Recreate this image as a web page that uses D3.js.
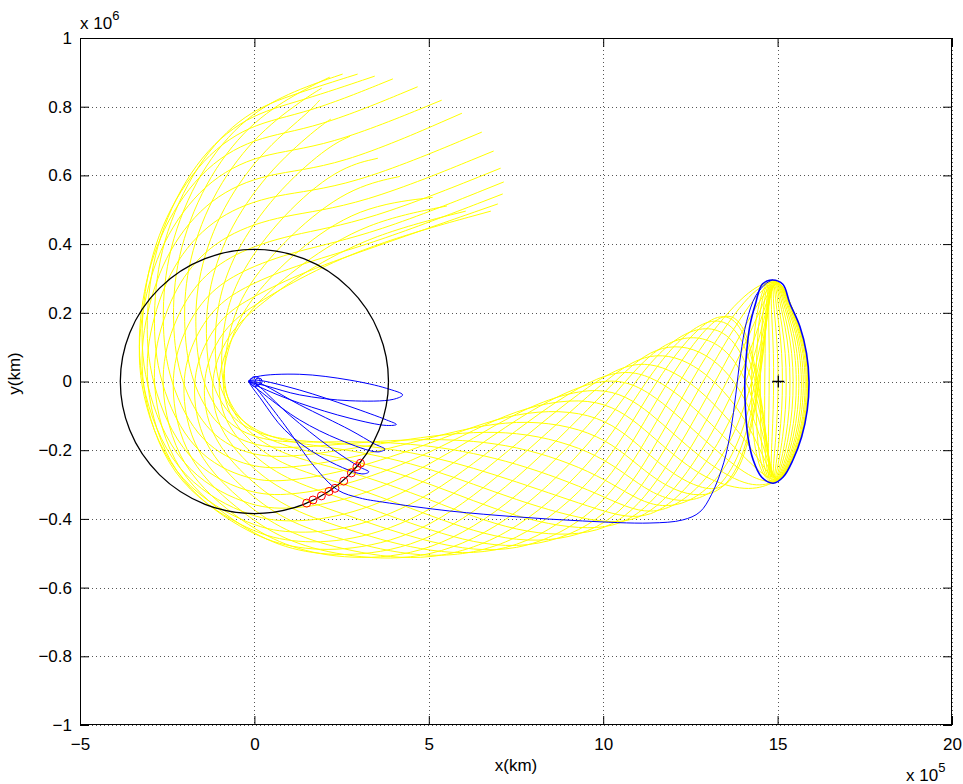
<!DOCTYPE html>
<html><head><meta charset="utf-8">
<script src="https://cdn.jsdelivr.net/npm/d3@7"></script>
<style>
body{margin:0;background:#fff}
svg{display:block}
text{font-family:"Liberation Sans",Arial,Helvetica,sans-serif;fill:#000}
</style></head>
<body><svg id="chart" width="963" height="784"></svg>
<script>
// ---- axis ticks (x in 1e5 km, y in 1e6 km) ----
const xTicks = [-5, 0, 5, 10, 15, 20];
const yTicks = [-1, -0.8, -0.6, -0.4, -0.2, 0, 0.2, 0.4, 0.6, 0.8, 1];

// ---- Moon orbit, Earth parking orbit and L2 ----
const moonOrbitKm = 384400;
const earthPos = [0.02, 0];
const parkingOrbitKm = 14500;
const l2Point = [15.02, 0];

// ---- orbit around L2 (right and left halves at matching heights) ----
const haloRight = [[14.85,0.2955],[15.15,0.283],[15.35,0.228],[15.64,0.16],[15.83,0.082],[15.90,0],[15.85,-0.083],[15.69,-0.161],[15.44,-0.2285],[15.16,-0.278],[14.87,-0.296]];
const haloLeft  = [[14.85,0.2955],[14.56,0.283],[14.37,0.228],[14.20,0.16],[14.11,0.082],[14.06,0],[14.08,-0.083],[14.15,-0.161],[14.30,-0.2285],[14.54,-0.278],[14.87,-0.296]];

// ---- manifold tube: inner / outer edge at successive sections ----
const tubeInner = [[14.15,0.269],[12.77,0.191],[11.34,0.106],[9.99,0.036],[7.52,-0.071],[5.03,-0.156],[2.73,-0.173],[1.01,-0.173],[0.01,-0.144],[-0.62,-0.086],[-0.91,0.0],[-0.76,0.092],[-0.48,0.156],[0.04,0.215],[1.44,0.310],[3.59,0.397]];
const tubeOuter = [[14.15,-0.322],[12.77,-0.365],[11.34,-0.412],[9.99,-0.453],[7.52,-0.511],[5.03,-0.529],[2.73,-0.520],[1.01,-0.492],[-0.28,-0.438],[-2.48,-0.287],[-3.40,0.0],[-3.31,0.208],[-2.86,0.426],[-1.71,0.645],[-0.28,0.784],[1.16,0.848]];

// position of each yellow trajectory across the tube at each section (0 inner .. 1 outer)
const yellowFrac = [
 [0,.15,.5,.85,1,.85,.63,.5,.37,.25,.15,.07,.02,0,.02,.07],
 [.02,.25,.63,.93,.98,.75,.5,.37,.25,.15,.07,.02,0,.02,.07,.15],
 [.07,.37,.75,.98,.93,.63,.37,.25,.15,.07,.02,0,.02,.07,.15,.25],
 [.15,.5,.85,1,.85,.5,.25,.15,.07,.02,0,.02,.07,.15,.25,.37],
 [.25,.63,.93,.98,.75,.37,.15,.07,.02,0,.02,.07,.15,.25,.37,.5],
 [.37,.75,.98,.93,.63,.25,.07,.02,0,.02,.07,.15,.25,.37,.5,.63],
 [.5,.85,1,.85,.5,.15,.02,0,.02,.07,.15,.25,.37,.5,.63,.75],
 [.63,.93,.98,.75,.37,.07,0,.02,.07,.15,.25,.37,.5,.63,.75,.85],
 [.75,.98,.93,.63,.25,.02,.02,.07,.15,.25,.37,.5,.63,.75,.85,.93],
 [.85,1,.85,.5,.15,0,.07,.15,.25,.37,.5,.63,.75,.85,.93,.98],
 [.93,.98,.75,.37,.07,.02,.15,.25,.37,.5,.63,.75,.85,.93,.98,1],
 [.98,.93,.63,.25,.02,.07,.25,.37,.5,.63,.75,.85,.93,.98,1,.98],
 [1,.85,.5,.15,0,.15,.37,.5,.63,.75,.85,.93,.98,1,.98,.93],
 [.98,.75,.37,.07,.02,.25,.5,.63,.75,.85,.93,.98,1,.98,.93,.85],
 [.93,.63,.25,.02,.07,.37,.63,.75,.85,.93,.98,1,.98,.93,.85,.75],
 [.85,.5,.15,0,.15,.5,.75,.85,.93,.98,1,.98,.93,.85,.75,.63],
 [.75,.37,.07,.02,.25,.63,.85,.93,.98,1,.98,.93,.85,.75,.63,.5],
 [.63,.25,.02,.07,.37,.75,.93,.98,1,.98,.93,.85,.75,.63,.5,.37],
 [.5,.15,0,.15,.5,.85,.98,1,.98,.93,.85,.75,.63,.5,.37,.25],
 [.37,.07,.02,.25,.63,.93,1,.98,.93,.85,.75,.63,.5,.37,.25,.15],
 [.25,.02,.07,.37,.75,.98,.98,.93,.85,.75,.63,.5,.37,.25,.15,.07],
 [.15,0,.15,.5,.85,1,.93,.85,.75,.63,.5,.37,.25,.15,.07,.02],
 [.07,.02,.25,.63,.93,.98,.85,.75,.63,.5,.37,.25,.15,.07,.02,0],
 [.02,.07,.37,.75,.98,.93,.75,.63,.5,.37,.25,.15,.07,.02,0,.02]
];
// which side of the L2 orbit each trajectory leaves from (1 = top, 0 = bottom)
const yellowFromTop = [1,1,1,1,1,1,1,1,1,1,1,1,0,0,0,0,0,0,0,0,0,0,0,0];
// how far each trajectory's loop bulges inside the L2 orbit (0 left side .. 1 right side)
const yellowArcBulge = [1,1,1,.97,.92,.85,.76,.65,.52,.38,.24,.1,1,1,1,.99,.95,.89,.81,.71,.59,.45,.31,.17];
// final point of each yellow trajectory
const yellowEnd = [[6.06,0.496],[5.52,0.511],[5.11,0.536],[4.17,0.597],[3.54,0.650],[2.74,0.714],[2.19,0.764],[1.87,0.819],
 [1.93,0.854],[2.16,0.886],[2.53,0.895],[2.96,0.895],[3.45,0.889],[3.97,0.881],[4.68,0.858],[5.37,0.819],
 [5.95,0.781],[6.52,0.726],[6.86,0.671],[7.06,0.621],[7.15,0.581],[7.12,0.546],[6.98,0.517],[6.78,0.496]];

// ---- blue: phasing loops around Earth ----
const loopA = [[-0.16,0.0015],[0.07,0.014],[1.30,0.021],[2.74,0.004],[3.79,-0.020],[4.25,-0.039],[3.98,-0.052],[2.74,-0.056],[1.30,-0.039],[0.35,-0.013]];
const loopB = [[-0.16,0.0015],[0.07,0.004],[1.30,-0.025],[2.74,-0.073],[3.79,-0.112],[4.07,-0.125],[3.79,-0.128],[2.74,-0.107],[1.30,-0.063],[0.35,-0.025]];
const loopC = [[-0.16,0.0015],[0.07,-0.0015],[1.30,-0.068],[2.74,-0.141],[3.45,-0.182],[3.74,-0.197],[3.54,-0.205],[2.45,-0.170],[1.30,-0.112],[0.30,-0.039]];
const loopD = [[-0.16,0.0015],[0.04,-0.007],[1.01,-0.098],[2.16,-0.191],[3.02,-0.249],[3.28,-0.263],[3.08,-0.269],[1.87,-0.217],[0.87,-0.141],[0.21,-0.054]];
// ---- blue: transfer from Earth to the L2 orbit ----
const transfer = [[0.01,-0.013],[0.87,-0.127],[1.73,-0.249],[2.39,-0.316],[3.02,-0.339],[3.68,-0.351],[5.60,-0.377],[7.52,-0.394],[9.41,-0.406],[11.34,-0.412],[12.28,-0.403],[12.77,-0.380],[13.11,-0.328],[13.46,-0.235],[13.66,-0.141],[13.80,-0.039],[13.94,0.077],[14.11,0.174],[14.37,0.249],[14.69,0.287],[14.85,0.2955]];
// ---- red: points on the Moon's orbit ----
const moonCrossings = [[1.50,-0.354],[1.68,-0.345],[1.92,-0.333],[2.14,-0.320],[2.31,-0.311],[2.56,-0.290],[2.78,-0.266],[2.94,-0.248],[3.04,-0.238]];

// ================= drawing =================
const W = 963, H = 784;
const L = 80, R = 952, T = 38, B = 725;
const svg = d3.select("#chart");
const x = d3.scaleLinear().domain([-5, 20]).range([L, R]);
const y = d3.scaleLinear().domain([-1, 1]).range([B, T]);
const fmt = d3.format("~g");
const FS = 17;

svg.append("rect").attr("width", W).attr("height", H).attr("fill", "#fff");
svg.append("defs").append("clipPath").attr("id", "clip")
  .append("rect").attr("x", L).attr("y", T).attr("width", R - L).attr("height", B - T);

// grid
const grid = svg.append("g").attr("stroke", "#555").attr("stroke-width", 1).attr("stroke-dasharray", "1,3");
grid.selectAll("line.gx").data(xTicks).join("line").attr("class","gx")
  .attr("x1", d => Math.round(x(d)) + 0.5).attr("x2", d => Math.round(x(d)) + 0.5).attr("y1", T).attr("y2", B);
grid.selectAll("line.gy").data(yTicks).join("line").attr("class","gy")
  .attr("y1", d => Math.round(y(d)) + 0.5).attr("y2", d => Math.round(y(d)) + 0.5).attr("x1", L).attr("x2", R);

const plot = svg.append("g").attr("clip-path", "url(#clip)");
const line = d3.line().x(d => x(d[0])).y(d => y(d[1])).curve(d3.curveCatmullRom.alpha(0.5));
const smooth = d3.line().x(d => x(d[0])).y(d => y(d[1])).curve(d3.curveBasis);
const closed = d3.line().x(d => x(d[0])).y(d => y(d[1])).curve(d3.curveCatmullRomClosed.alpha(0.5));

// yellow manifold trajectories
function tubePoint(s, f) {
  const a = tubeInner[s], b = tubeOuter[s];
  return [a[0] + f * (b[0] - a[0]), a[1] + f * (b[1] - a[1])];
}
const yellowPaths = yellowFrac.map((fr, k) => {
  const t = yellowArcBulge[k];
  let arc = haloLeft.map((p, j) => [p[0] + t * (haloRight[j][0] - p[0]), p[1]]);
  if (yellowFromTop[k]) arc = arc.slice().reverse();
  const pts = arc.concat(fr.map((f, s) => tubePoint(s, f)));
  pts.push(yellowEnd[k]);
  return pts;
});
plot.append("g").selectAll("path").data(yellowPaths).join("path")
  .attr("d", smooth).attr("fill", "none").attr("stroke", "#ffff00").attr("stroke-width", 1);

// blue
const blue = plot.append("g").attr("fill", "none").attr("stroke", "#0000ff").attr("stroke-width", 1);
[loopA, loopB, loopC, loopD].forEach(lp => blue.append("path").attr("d", closed(lp)));
blue.append("path").attr("d", line(transfer));
const haloLoop = haloRight.concat(haloLeft.slice(1, -1).reverse());
blue.append("path").attr("d", closed(haloLoop)).attr("stroke-width", 1.6);
blue.append("ellipse").attr("cx", x(earthPos[0])).attr("cy", y(earthPos[1]))
  .attr("rx", x(parkingOrbitKm / 1e5) - x(0)).attr("ry", y(0) - y(parkingOrbitKm / 1e6));
blue.append("ellipse").attr("cx", x(earthPos[0] + 0.1)).attr("cy", y(earthPos[1]))
  .attr("rx", (x(parkingOrbitKm / 1e5) - x(0)) * 0.7).attr("ry", (y(0) - y(parkingOrbitKm / 1e6)) * 0.7);

// Moon orbit
plot.append("ellipse").attr("cx", x(0)).attr("cy", y(0))
  .attr("rx", x(moonOrbitKm / 1e5) - x(0)).attr("ry", y(0) - y(moonOrbitKm / 1e6))
  .attr("fill", "none").attr("stroke", "#000").attr("stroke-width", 1.3);

// red markers
plot.append("g").selectAll("circle").data(moonCrossings).join("circle")
  .attr("cx", d => x(d[0])).attr("cy", d => y(d[1])).attr("r", 4)
  .attr("fill", "none").attr("stroke", "#ff0000").attr("stroke-width", 1);

// L2 marker
plot.append("path").attr("transform", `translate(${x(l2Point[0])},${y(l2Point[1])})`)
  .attr("d", "M-6,0H6M0,-6V6").attr("stroke", "#000").attr("stroke-width", 1.3);

// axes (ticks inward on all four sides)
const tick = 9;
svg.append("g").attr("transform", `translate(0,${B})`)
  .call(d3.axisBottom(x).tickValues(xTicks).tickSize(-tick).tickSizeOuter(0).tickPadding(13).tickFormat(fmt));
svg.append("g").attr("transform", `translate(${L},0)`)
  .call(d3.axisLeft(y).tickValues(yTicks).tickSize(-tick).tickSizeOuter(0).tickPadding(8).tickFormat(fmt));
svg.append("g").attr("transform", `translate(0,${T})`)
  .call(d3.axisTop(x).tickValues(xTicks).tickSize(-tick).tickSizeOuter(0).tickFormat(""));
svg.append("g").attr("transform", `translate(${R},0)`)
  .call(d3.axisRight(y).tickValues(yTicks).tickSize(-tick).tickSizeOuter(0).tickFormat(""));
svg.selectAll(".domain").remove();
svg.selectAll(".tick line").attr("stroke", "#000");
svg.selectAll(".tick text").attr("font-size", FS).attr("font-family", '"Liberation Sans",Arial,sans-serif');
svg.append("rect").attr("x", L + 0.5).attr("y", T + 0.5).attr("width", R - L - 1).attr("height", B - T - 1)
  .attr("fill", "none").attr("stroke", "#000").attr("stroke-width", 1);

// labels
svg.append("text").attr("x", (L + R) / 2).attr("y", 771).attr("text-anchor", "middle")
  .attr("font-size", FS).text("x(km)");
svg.append("text").attr("transform", `translate(20,${(T + B) / 2 - 8}) rotate(-90)`).attr("text-anchor", "middle")
  .attr("font-size", FS).text("y(km)");
const m6 = svg.append("text").attr("x", 80).attr("y", 29).attr("font-size", FS);
m6.append("tspan").text("x 10");
m6.append("tspan").attr("dy", -9).attr("font-size", 13).text("6");
const m5 = svg.append("text").attr("x", 906).attr("y", 781).attr("font-size", FS);
m5.append("tspan").text("x 10");
m5.append("tspan").attr("dy", -9).attr("font-size", 13).text("5");
</script></body></html>
